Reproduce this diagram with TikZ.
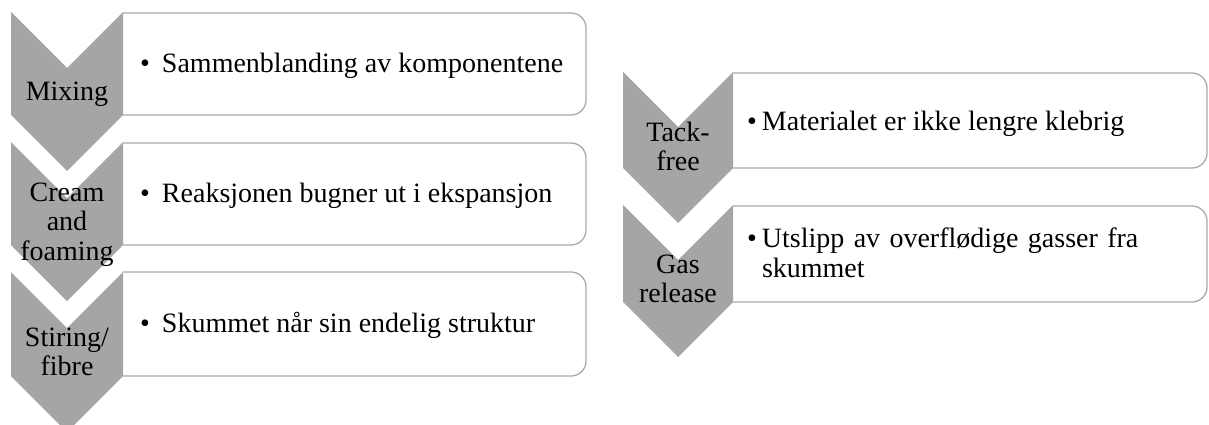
\documentclass[tikz,border=0pt]{standalone}
\usepackage{fontspec}
\setmainfont{Liberation Serif}
\definecolor{chevgray}{RGB}{165,165,165}
\definecolor{boxline}{RGB}{170,170,170}
\tikzset{
  chev/.style={fill=chevgray, draw=none},
  infobox/.style={draw=boxline, line width=1.3pt, fill=white, rounded corners=15pt},
  lbl/.style={font=\fontsize{28}{29.5}\selectfont, text width=120pt, align=center, anchor=base, inner sep=0pt},
  txt/.style={font=\fontsize{28}{30}\selectfont, anchor=base west, inner sep=0pt},
  txtwide/.style={txt, text width=450pt, align=left},
}
\begin{document}
\begin{tikzpicture}[x=1pt,y=-1pt]
\useasboundingbox (0,0) rectangle (1209,425);
\clip (0,0) rectangle (1209,425);
% left boxes
\draw[infobox] (123,13) -- (586,13) -- (586,115) -- (123,115);
\draw[infobox] (123,143) -- (586,143) -- (586,245) -- (123,245);
\draw[infobox] (123,272) -- (586,272) -- (586,376) -- (123,376);
% right boxes
\draw[infobox] (733,73) -- (1207,73) -- (1207,168) -- (733,168);
\draw[infobox] (733,206) -- (1207,206) -- (1207,302) -- (733,302);
% left chevrons
\fill[chev] (11,12) -- (67,68) -- (123,12) -- (123,115) -- (67,171) -- (11,115) -- cycle;
\fill[chev] (11,142) -- (67,198) -- (123,142) -- (123,245) -- (67,301) -- (11,245) -- cycle;
\fill[chev] (11,272) -- (67,328) -- (123,272) -- (123,376) -- (67,432) -- (11,376) -- cycle;
% right chevrons
\fill[chev] (623,72) -- (678,127) -- (733,72) -- (733,168) -- (678,223) -- (623,168) -- cycle;
\fill[chev] (623,205) -- (678,260) -- (733,205) -- (733,302) -- (678,357) -- (623,302) -- cycle;
% chevron labels
\node[lbl] (l1) at (67,101) {Mixing};
\node[lbl] (l2) at (67,201) {Cream\\and\\foaming};
\node[lbl] (l3) at (67,346) {Stiring/\\fibre};
\node[lbl] (r1) at (678,141) {Tack-\\free};
\node[lbl] (r2) at (678,273) {Gas\\release};
% box texts
\node[txt] (t1) at (140,73) {•\hspace{12pt}Sammenblanding av komponentene};
\node[txt] (t2) at (140,202) {•\hspace{12pt}Reaksjonen bugner ut i ekspansjon};
\node[txt] (t3) at (140,332) {•\hspace{12pt}Skummet når sin endelig struktur};
\node[txt] (t4) at (747,130) {•\hspace{5pt}Materialet er ikke lengre klebrig};
\node[txtwide] (t5) at (747,247) {\hbox{•\hspace{5pt}Utslipp av overflødige gasser fra}\\\hbox{\hphantom{•}\hspace{5pt}skummet}};
\end{tikzpicture}
\end{document}
